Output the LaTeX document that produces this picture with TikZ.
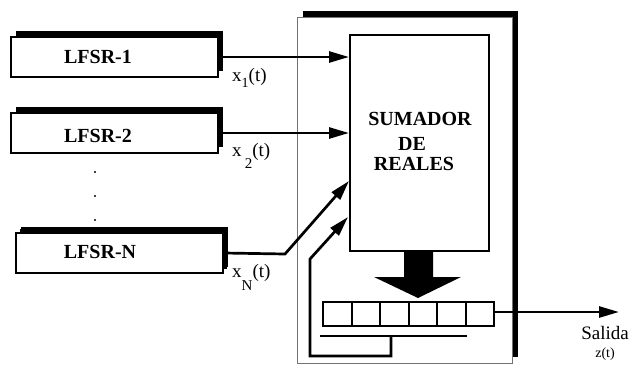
\documentclass[tikz,border=0pt]{standalone}
\usepackage{fontspec}
\setmainfont{Liberation Serif}
\usetikzlibrary{arrows.meta,shadows}
\begin{document}
\begin{tikzpicture}[x=1pt,y=-1pt,
  lfsrbox/.style={draw, line width=2pt, fill=white, inner sep=0pt,
    minimum width=207pt, minimum height=40pt,
    drop shadow={shadow xshift=5pt, shadow yshift=6pt, fill=black, opacity=1}},
  boxlbl/.style={font=\fontsize{20}{22}\selectfont\bfseries, anchor=base, inner sep=0pt},
  sig/.style={font=\fontsize{19}{20}\selectfont, anchor=base west, inner sep=0pt},
  wire/.style={line width=2.7pt},
  arr/.style={wire, -{Triangle[length=20pt,width=11pt]}},
  cell/.style={draw, line width=2pt, minimum width=28.5pt, minimum height=24pt,
    inner sep=0pt, outer sep=0pt, anchor=west}
]
\useasboundingbox (0,0) rectangle (633,365);

% generator unit frame with its shadow
\node[draw=black!55, line width=0.8pt, fill=white, minimum width=215pt,
  minimum height=346pt, inner sep=0pt,
  drop shadow={shadow xshift=6pt, shadow yshift=6pt, fill=black, opacity=1}]
  (frame) at (404.5,190) {};

% adder block
\node[draw, line width=2pt, fill=white, minimum width=139pt, minimum height=216pt,
  inner sep=0pt] (sum) at (419.5,143) {};
\node[boxlbl] (t1) at (420,125) {SUMADOR};
\node[boxlbl] (t2) at (412,150) {DE};
\node[boxlbl] (t3) at (414,170) {REALES};

% the LFSR generators
\node[lfsrbox] (g1) at (114.5,57) {};
\node[boxlbl] (g1l) at (98,63) {LFSR-1};
\node[lfsrbox] (g2) at (114.5,133) {};
\node[boxlbl] (g2l) at (98,142) {LFSR-2};
\node[lfsrbox, drop shadow={shadow xshift=4pt, shadow yshift=4pt, fill=black, opacity=1}]
  (gN) at (119.5,253) {};
\node[boxlbl] (gNl) at (100,258) {LFSR-N};

% ellipsis between generators
\fill (95,172) circle[radius=1.2pt];
\fill (95,196) circle[radius=1.2pt];
\fill (95,220) circle[radius=1.2pt];

% output register
\node[cell] (c1) at (323,314) {};
\node[cell] (c2) at (c1.east) {};
\node[cell] (c3) at (c2.east) {};
\node[cell] (c4) at (c3.east) {};
\node[cell] (c5) at (c4.east) {};
\node[cell] (c6) at (c5.east) {};

% block arrow from the adder into the register
\fill (404,251) -- (433,251) -- (433,277) -- (461,277) -- (418,298)
  -- (374,277) -- (404,277) -- cycle;

% signal inputs
\draw[arr] (g1.east) -- (g1.east -| sum.west);
\draw[arr] (g2.east) -- (g2.east -| sum.west);
\coordinate (bendN) at (285,254);
\coordinate (inN) at (349,181);
\draw[arr] (gN.east) -- (bendN) -- (inN);

% feedback from the register
\coordinate (fbL) at (320,336);
\coordinate (fbR) at (467,336);
\coordinate (fbT) at (391,336);
\coordinate (fbB) at (391,356);
\coordinate (fbC) at (310,356);
\coordinate (fbU) at (310,259);
\coordinate (inF) at (348,217);
\draw[wire] (fbL) -- (fbR);
\draw[arr] (fbT) -- (fbB) -- (fbC) -- (fbU) -- (inF);

% output
\coordinate (outE) at (619,312);
\draw[arr] (c6.east |- outE) -- (outE);
\node[font=\fontsize{19}{20}\selectfont, anchor=base, inner sep=0pt] (sal) at (605,339) {Salida};
\node[font=\fontsize{14}{15}\selectfont, anchor=base, inner sep=0pt] (zt) at (605,357) {z(t)};

% signal labels
\node[sig] (x1) at (232,81) {x\raisebox{-6pt}{\fontsize{14}{14}\selectfont 1}(t)};
\node[sig] (x2) at (232,156) {x\,\raisebox{-12pt}{\fontsize{15}{15}\selectfont 2}(t)};
\node[sig] (xN) at (232,277) {x\raisebox{-13pt}{\fontsize{15}{15}\selectfont N}(t)};
\end{tikzpicture}
\end{document}
